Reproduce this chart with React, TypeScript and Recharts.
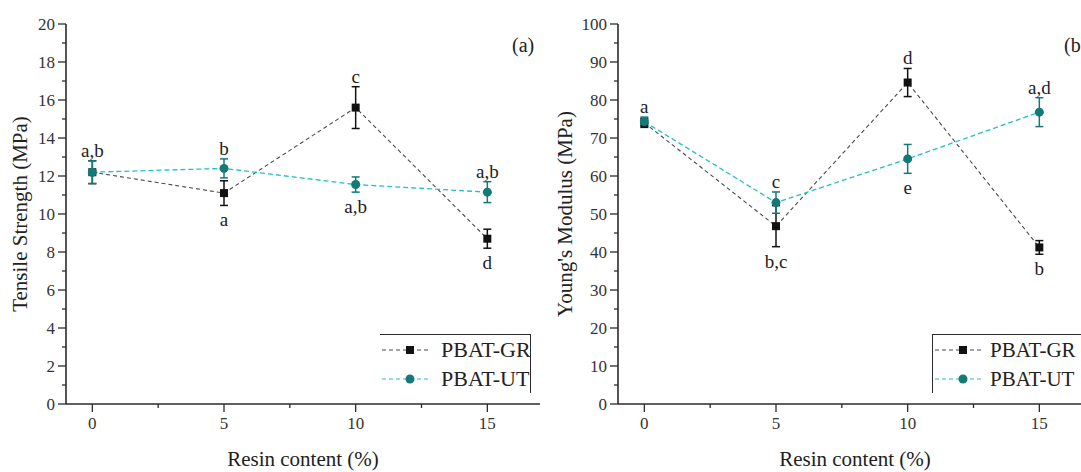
import React from 'react';
import { LineChart, Line, XAxis, YAxis, ErrorBar, LabelList, Legend } from 'recharts';

const resin = [0, 5, 10, 15];

// (a) tensile strength, MPa
const tsGR = [12.2, 11.1, 15.6, 8.7];
const tsGRErr = [0.6, 0.65, 1.1, 0.5];
const tsUT = [12.2, 12.4, 11.55, 11.15];
const tsUTErr = [0.6, 0.5, 0.4, 0.55];
const tsTop = ['a,b', 'b', 'c', 'a,b'];
const tsTopOn = ['ut', 'ut', 'gr', 'ut'];
const tsBottom = ['', 'a', 'a,b', 'd'];
const tsBottomOn = ['', 'gr', 'ut', 'gr'];

// (b) Young's modulus, MPa
const ymGR = [74.0, 46.8, 84.6, 41.2];
const ymGRErr = [1.2, 5.4, 3.7, 1.8];
const ymUT = [74.3, 53.0, 64.5, 76.8];
const ymUTErr = [1.2, 2.8, 3.8, 3.8];
const ymTop = ['a', 'c', 'd', 'a,d'];
const ymTopOn = ['ut', 'ut', 'gr', 'ut'];
const ymBottom = ['', 'b,c', 'e', 'b'];
const ymBottomOn = ['', 'gr', 'ut', 'gr'];

const xTicks = [0, 2.5, 5, 7.5, 10, 12.5, 15];
const xMajor = [0, 5, 10, 15];
const tsTicks = [0, 1, 2, 3, 4, 5, 6, 7, 8, 9, 10, 11, 12, 13, 14, 15, 16, 17, 18, 19, 20];
const tsMajor = [0, 2, 4, 6, 8, 10, 12, 14, 16, 18, 20];
const ymTicks = [0, 5, 10, 15, 20, 25, 30, 35, 40, 45, 50, 55, 60, 65, 70, 75, 80, 85, 90, 95, 100];
const ymMajor = [0, 10, 20, 30, 40, 50, 60, 70, 80, 90, 100];

const FONT = '"Liberation Serif", "DejaVu Serif", serif';
const AXIS = '#2b2b2b';
const GR_LINE = '#4a4a4a';
const GR_MARK = '#111111';
const UT_LINE = '#22c0c7';
const UT_MARK = '#137a77';

function buildRows(
  gr: number[], grErr: number[], ut: number[], utErr: number[],
  top: string[], topOn: string[], bottom: string[], bottomOn: string[]
) {
  return resin.map((x, i) => ({
    x,
    gr: gr[i],
    grErr: grErr[i],
    ut: ut[i],
    utErr: utErr[i],
    topPos: top[i] ? (topOn[i] === 'gr' ? gr[i] + grErr[i] : ut[i] + utErr[i]) : null,
    topTxt: top[i],
    botPos: bottom[i] ? (bottomOn[i] === 'gr' ? gr[i] - grErr[i] : ut[i] - utErr[i]) : null,
    botTxt: bottom[i],
  }));
}

const XTick = (props: any) => {
  const { x, y, payload } = props;
  const major = xMajor.includes(payload.value);
  const y0 = y - 7;
  return (
    <g>
      <line x1={x} x2={x} y1={y0} y2={y0 + (major ? 8 : 4)} stroke={AXIS} strokeWidth={1.3} />
      {major && (
        <text x={x} y={y0 + 25} textAnchor="middle" fontSize={17} fill="#333" fontFamily={FONT}>
          {payload.value}
        </text>
      )}
    </g>
  );
};

const makeYTick = (majors: number[]) => (props: any) => {
  const { x, y, payload } = props;
  const major = majors.includes(payload.value);
  const x0 = x + 7;
  return (
    <g>
      <line x1={x0 - (major ? 8 : 4)} x2={x0} y1={y} y2={y} stroke={AXIS} strokeWidth={1.3} />
      {major && (
        <text x={x0 - 11} y={y} dy="0.34em" textAnchor="end" fontSize={17} fill="#333" fontFamily={FONT}>
          {payload.value}
        </text>
      )}
    </g>
  );
};

const letter = (dir: 'up' | 'down') => (props: any) => {
  const { x, y, value, index } = props;
  if (!value || y == null || isNaN(y)) return null;
  return (
    <text
      key={`${dir}-${index}`}
      x={x}
      y={dir === 'up' ? y - 4 : y + 21}
      textAnchor="middle"
      fontSize={19}
      fill="#222"
      fontFamily={FONT}
    >
      {value}
    </text>
  );
};

const square = (p: any) => (
  <rect key={`sq-${p.index}`} x={p.cx - 4} y={p.cy - 4} width={8} height={8} fill={GR_MARK} />
);

const LegendBox = ({ payload, side }: any) => {
  const items = (payload || []).filter((e: any) => e.dataKey === 'gr' || e.dataKey === 'ut');
  const textLeft = side === 'left' ? 57 : 61;
  const textSize = side === 'left' ? 21 : 22;
  return (
    <div
      style={{
        position: 'relative',
        width: 151,
        height: 59,
        boxSizing: 'border-box',
        borderTop: `1.3px solid ${AXIS}`,
        borderLeft: side === 'left' ? `1.3px solid ${AXIS}` : 'none',
        borderRight: side === 'right' ? `1.3px solid ${AXIS}` : 'none',
        fontFamily: FONT,
      }}
    >
      {items.map((entry: any, i: number) => {
        const isGR = entry.dataKey === 'gr';
        const cy = i === 0 ? 15 : 44;
        return (
          <div key={entry.value} style={{ position: 'absolute', left: 0, top: cy - 12, height: 24, width: 151 }}>
            <svg width={52} height={24} style={{ position: 'absolute', left: 1, top: 0 }}>
              <line x1={1} x2={48} y1={12} y2={12} stroke={isGR ? GR_LINE : UT_LINE} strokeWidth={1.2} strokeDasharray="4 3" />
              {isGR ? (
                <rect x={25} y={8} width={8} height={8} fill={GR_MARK} />
              ) : (
                <circle cx={29} cy={12} r={4.5} fill={UT_MARK} />
              )}
            </svg>
            <span
              style={{
                position: 'absolute',
                left: textLeft,
                top: 0,
                lineHeight: '24px',
                fontSize: textSize,
                color: '#222',
                whiteSpace: 'nowrap',
                fontFamily: FONT,
              }}
            >
              {entry.value}
            </span>
          </div>
        );
      })}
    </div>
  );
};

function Panel({ rows, yDomain, yTicks, yMajor, yTitle, titleOffset, tag, legendSide }: any) {
  const axisLine = { stroke: AXIS, strokeWidth: 1.6 };
  return (
    <div style={{ position: 'relative', width: 552, height: 472, fontFamily: FONT }}>
      <LineChart
        width={552}
        height={472}
        data={rows}
        margin={{ top: 24, right: 12, left: 6, bottom: 0 }}
        style={{ fontFamily: FONT }}
      >
        <XAxis
          dataKey="x"
          type="number"
          domain={[-1, 17]}
          ticks={xTicks}
          interval={0}
          tick={<XTick />}
          tickLine={false}
          tickSize={7}
          tickMargin={0}
          height={68}
          axisLine={axisLine}
          label={{
            value: 'Resin content (%)',
            position: 'insideBottom',
            offset: 6,
            fontSize: 21,
            fill: '#222',
            fontFamily: FONT,
          }}
        />
        <XAxis xAxisId="top" orientation="top" type="number" domain={[-1, 17]} height={0} tick={false} tickLine={false} axisLine={axisLine} />
        <YAxis
          type="number"
          domain={yDomain}
          ticks={yTicks}
          interval={0}
          tick={makeYTick(yMajor)}
          tickLine={false}
          tickSize={7}
          tickMargin={0}
          width={60}
          axisLine={axisLine}
          label={{
            value: yTitle,
            angle: -90,
            position: 'insideLeft',
            offset: titleOffset,
            fontSize: 21,
            fill: '#222',
            fontFamily: FONT,
            style: { textAnchor: 'middle' },
          }}
        />
        <YAxis yAxisId="right" orientation="right" type="number" domain={yDomain} width={0} tick={false} tickLine={false} axisLine={axisLine} />
        <Legend
          layout="vertical"
          align="center"
          verticalAlign="middle"
          wrapperStyle={{ left: 380, top: 334, width: 151, height: 59 }}
          content={(p: any) => <LegendBox payload={p.payload} side={legendSide} />}
        />
        <Line
          dataKey="gr"
          name="PBAT-GR"
          stroke={GR_LINE}
          strokeWidth={1.1}
          strokeDasharray="4 3"
          dot={square}
          activeDot={false}
          isAnimationActive={false}
        >
          <ErrorBar dataKey="grErr" direction="y" width={4} stroke={GR_MARK} strokeWidth={1.5} />
        </Line>
        <Line
          dataKey="ut"
          name="PBAT-UT"
          stroke={UT_LINE}
          strokeWidth={1.3}
          strokeDasharray="5 3"
          dot={{ r: 4.5, fill: UT_MARK, stroke: UT_MARK, strokeWidth: 0 }}
          activeDot={false}
          isAnimationActive={false}
        >
          <ErrorBar dataKey="utErr" direction="y" width={4} stroke={UT_MARK} strokeWidth={1.5} />
        </Line>
        <Line dataKey="topPos" stroke="none" dot={false} activeDot={false} legendType="none" isAnimationActive={false}>
          <LabelList dataKey="topTxt" content={letter('up')} />
        </Line>
        <Line dataKey="botPos" stroke="none" dot={false} activeDot={false} legendType="none" isAnimationActive={false}>
          <LabelList dataKey="botTxt" content={letter('down')} />
        </Line>
      </LineChart>
      <div style={{ position: 'absolute', left: 512, top: 34, fontSize: 20, lineHeight: '22px', color: '#222', fontFamily: FONT }}>
        {tag}
      </div>
    </div>
  );
}

export default function App() {
  const rowsA = buildRows(tsGR, tsGRErr, tsUT, tsUTErr, tsTop, tsTopOn, tsBottom, tsBottomOn);
  const rowsB = buildRows(ymGR, ymGRErr, ymUT, ymUTErr, ymTop, ymTopOn, ymBottom, ymBottomOn);
  return (
    <div
      style={{
        position: 'absolute',
        left: 0,
        top: 0,
        width: 1081,
        height: 472,
        overflow: 'hidden',
        background: '#fff',
        fontFamily: FONT,
      }}
    >
      <div style={{ position: 'absolute', left: 0, top: 0 }}>
        <Panel rows={rowsA} yDomain={[0, 20]} yTicks={tsTicks} yMajor={tsMajor} yTitle="Tensile Strength (MPa)" titleOffset={14} tag="(a)" legendSide="right" />
      </div>
      <div style={{ position: 'absolute', left: 552, top: 0 }}>
        <Panel rows={rowsB} yDomain={[0, 100]} yTicks={ymTicks} yMajor={ymMajor} yTitle="Young's Modulus (MPa)" titleOffset={7} tag="(b)" legendSide="left" />
      </div>
    </div>
  );
}
